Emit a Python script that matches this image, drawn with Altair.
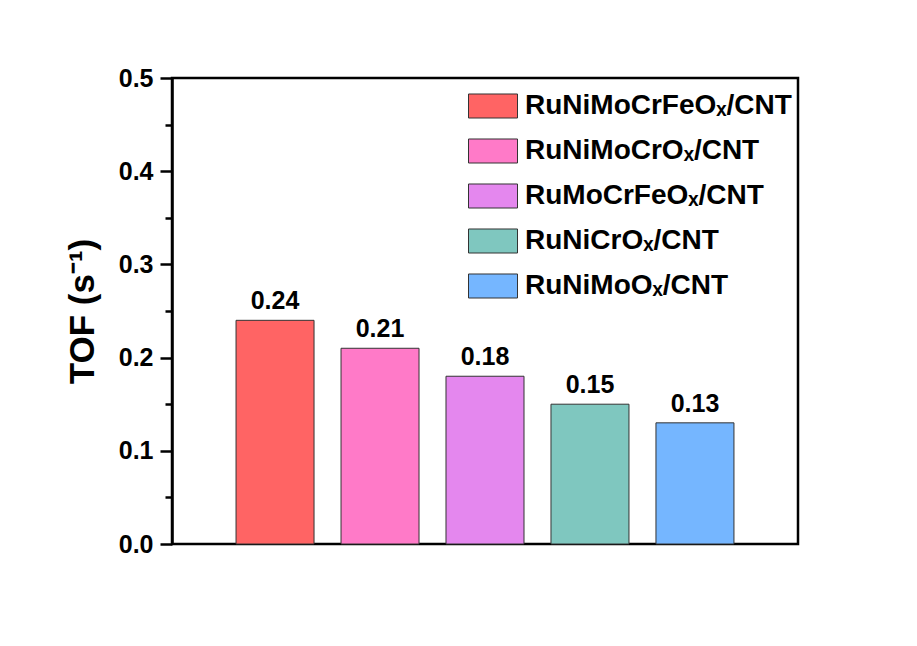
import altair as alt
import pandas as pd

# Turnover frequency of each catalyst
catalysts = [
    "RuNiMoCrFeOₓ/CNT",
    "RuNiMoCrOₓ/CNT",
    "RuMoCrFeOₓ/CNT",
    "RuNiCrOₓ/CNT",
    "RuNiMoOₓ/CNT",
]
tof = [0.24, 0.21, 0.18, 0.15, 0.13]
bar_colors = ["#FF6464", "#FF7AC8", "#E487EE", "#7FC7BF", "#75B6FF"]
labels = ["0.24", "0.21", "0.18", "0.15", "0.13"]

major_ticks = [0.0, 0.1, 0.2, 0.3, 0.4, 0.5]
minor_ticks = [0.05, 0.15, 0.25, 0.35, 0.45]

df = pd.DataFrame({"catalyst": catalysts, "tof": tof, "label": labels})

FONT = "Liberation Sans"

x_enc = alt.X(
    "catalyst:N",
    sort=None,
    axis=None,
    scale=alt.Scale(paddingInner=0.257, paddingOuter=0.61),
)
y_scale = alt.Scale(domain=[0, 0.5], nice=False, zero=True)

bars = (
    alt.Chart(df)
    .mark_bar(stroke="#333333", strokeWidth=1)
    .encode(
        x=x_enc,
        y=alt.Y(
            "tof:Q",
            scale=y_scale,
            title="TOF (s⁻¹)",
            axis=alt.Axis(
                values=major_ticks,
                format=".1f",
                grid=False,
                orient="left",
                domainColor="black",
                domainWidth=2.5,
                tickColor="black",
                tickWidth=2.5,
                tickSize=12,
                labelFont=FONT,
                labelFontSize=25,
                labelFontWeight="bold",
                labelColor="black",
                labelPadding=7,
                titleFont=FONT,
                titleFontSize=35,
                titleFontWeight="bold",
                titleColor="black",
                titlePadding=18,
            ),
        ),
        color=alt.Color(
            "catalyst:N",
            sort=None,
            scale=alt.Scale(domain=catalysts, range=bar_colors),
            legend=alt.Legend(
                title=None,
                orient="none",
                legendX=296,
                legendY=3,
                symbolType="M-1,-0.49H1V0.49H-1Z",
                symbolSize=2401,
                symbolStrokeColor="#333333",
                symbolStrokeWidth=1,
                symbolOpacity=1,
                labelFont=FONT,
                labelFontSize=28,
                labelFontWeight="bold",
                labelColor="black",
                labelLimit=0,
                labelOffset=7,
                rowPadding=5,
            ),
        ),
    )
)

values = (
    alt.Chart(df)
    .mark_text(
        font=FONT,
        fontSize=25,
        fontWeight="bold",
        color="black",
        baseline="bottom",
        dy=-6,
    )
    .encode(
        x=x_enc,
        y=alt.Y(
            "tof:Q",
            scale=y_scale,
            axis=alt.Axis(
                values=minor_ticks,
                orient="left",
                labels=False,
                domain=False,
                grid=False,
                title=None,
                tickColor="black",
                tickWidth=2.5,
                tickSize=7,
            ),
        ),
        text="label:N",
    )
)

chart = (
    alt.layer(bars, values)
    .resolve_axis(y="independent")
    .properties(
        width=626,
        height=466,
        autosize=alt.AutoSizeParams(type="none"),
        padding={"left": 172, "top": 78, "right": 119, "bottom": 102},
        background="white",
    )
    .configure_view(stroke="black", strokeWidth=2.5)
)

chart.save("out.html", embed_options={"renderer": "svg", "actions": False})
